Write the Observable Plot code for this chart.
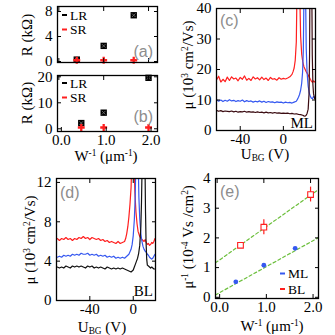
<!DOCTYPE html>
<html><head><meta charset="utf-8">
<script src="https://cdn.jsdelivr.net/npm/d3@7"></script>
<script src="https://cdn.jsdelivr.net/npm/@observablehq/plot@0.6"></script>
<style>
html,body{margin:0;padding:0;background:#fff;}
#chart{position:relative;width:335px;height:335px;overflow:hidden;background:#fff;}
#chart svg{position:absolute;left:0;top:0;}
</style></head><body><div id="chart"></div>
<script>
// ---------- DATA ----------
// (a) monolayer resistance vs inverse width
const aW = [0.4, 1.0, 1.67];
const aLR = [0.3, 2.5, 7.4];
const aSR = [0.2, 0.2, 0.2];
// (b) bilayer resistance vs inverse width
const bW = [0.5, 1.0, 2.0];
const bLR = [2.2, 6.2, 19.6];
const bSR = [0.5, 0.5, 0.5];
// (c) ML mobility vs back-gate voltage
const cRedX = [-62,-60,-58,-56,-54,-52,-50,-48,-46,-44,-42,-40,-38,-36,-34,-32,-30,-28,-26,-24,-22,-20,-18,-16,-14,-12,-10,-8,-6,-4,-2,0,2,4,6,8,9,10,11,12,12.6,15.2,16,17,18,19,20,21,22,23,24,25,26,27,28,29,30];
const cRedY = [16.6,17.8,15.9,16.8,16.0,17.5,16.4,17.6,16.9,17.2,16.3,17.4,16.8,17.9,16.5,17.1,16.4,17.6,16.9,17.3,16.6,17.5,16.7,17.2,16.4,17.4,16.8,17.0,16.5,17.3,16.8,17.1,16.9,17.2,17.6,18.4,19.3,20.5,23,29,45,45,31,25,22.5,21,20.2,19.4,18.8,18.2,17.5,16.8,16.2,15.8,16.3,15.9,16.1];
const cBlueX = [-62,-60,-58,-56,-54,-52,-50,-48,-46,-44,-42,-40,-38,-36,-34,-32,-30,-28,-26,-24,-22,-20,-18,-16,-14,-12,-10,-8,-6,-4,-2,0,2,4,6,8,10,12,13,14,15,16,17,17.8,18.5,19.1,20.6,21.2,22,23,24,25,26,27,28,29,30];
const cBlueY = [10.1,9.6,10.0,9.5,9.9,9.6,10.1,9.7,9.9,9.5,9.8,9.6,10.0,9.4,9.8,9.5,9.7,9.3,9.6,9.4,9.7,9.3,9.6,9.2,9.5,9.3,9.4,9.1,9.4,9.2,9.3,9.0,9.3,9.1,9.2,9.0,9.3,9.6,10.2,10.9,11.8,13.2,15.5,19,26,45,45,27,19,14.5,12.3,11.2,10.6,10.4,11.2,10.7,10.9];
const cDarkX = [-62,-60,-58,-56,-54,-52,-50,-48,-46,-44,-42,-40,-38,-36,-34,-32,-30,-28,-26,-24,-22,-20,-18,-16,-14,-12,-10,-8,-6,-4,-2,0,2,4,6,8,10,12,14,16,18,19,20,21,22,23,23.8,24.3,24.6,26.4,26.8,27.4,28,29,30];
const cDarkY = [6.6,6.3,6.5,6.2,6.4,6.3,6.2,6.4,6.1,6.3,6.0,6.2,6.1,6.3,6.0,6.2,6.0,6.1,5.9,6.1,5.9,6.0,5.8,6.0,5.8,5.9,5.7,5.9,5.7,5.8,5.6,5.7,5.6,5.7,5.5,5.6,5.4,5.5,5.3,5.2,5.0,4.8,4.7,4.9,5.6,7,12,25,45,45,25,15,12,10.5,10];
// (d) BL mobility vs back-gate voltage
const dRedX = [-70,-68,-66,-64,-62,-60,-58,-56,-54,-52,-50,-48,-46,-44,-42,-40,-38,-36,-34,-32,-30,-28,-26,-24,-22,-20,-18,-16,-14,-12,-10,-8,-7,-6,-5,-4,-3,-2,-1.4,0.8,1.5,2.5,3.5,4.5,6,8,10,11,12,13,14,15,16,17,18,19,20];
const dRedY = [6.3,6.1,6.3,6.2,6.4,6.2,6.3,6.1,6.3,6.2,6.4,6.3,6.5,6.3,6.4,6.2,6.4,6.3,6.2,6.3,6.1,6.2,6.0,6.1,5.9,6.0,5.9,5.8,6.0,5.8,5.9,6.0,6.3,6.8,7.5,8.5,9.8,11.5,14,14,11,9,7.8,7.0,6.5,6.2,6.0,6.2,5.9,5.7,5.8,5.6,5.7,5.9,5.8,6.0,6.3];
const dBlueX = [-70,-68,-66,-64,-62,-60,-58,-56,-54,-52,-50,-48,-46,-44,-42,-40,-38,-36,-34,-32,-30,-28,-26,-24,-22,-20,-18,-16,-14,-12,-10,-8,-6,-4,-2,-1,0,1,1.8,2.4,4.6,5.2,6,7,8,9,10,11,12,13,14,15,16,17,18,19,20];
const dBlueY = [4.4,4.5,4.4,4.6,4.5,4.6,4.5,4.7,4.6,4.7,4.6,4.8,4.7,4.7,4.8,4.6,4.7,4.6,4.7,4.5,4.6,4.5,4.6,4.4,4.5,4.4,4.5,4.3,4.4,4.3,4.4,4.3,4.5,4.7,5.2,5.7,6.6,8.2,10.5,14,14,10.5,8.3,6.8,6.0,5.5,5.2,5.0,4.9,4.7,4.6,4.4,4.3,4.2,4.3,4.5,4.7];
const dBlackX = [-70,-68,-66,-64,-62,-60,-58,-56,-54,-52,-50,-48,-46,-44,-42,-40,-38,-36,-34,-32,-30,-28,-26,-24,-22,-20,-18,-16,-14,-12,-10,-8,-6,-4,-2,0,1,2,3,4,5,6,7,7.6,8.2,10.8,11.3,11.8,12.4,13,14,15,16,17,18,19,20];
const dBlackY = [3.4,3.3,3.4,3.3,3.5,3.4,3.3,3.5,3.4,3.5,3.4,3.5,3.4,3.3,3.5,3.4,3.5,3.3,3.4,3.3,3.4,3.3,3.2,3.4,3.3,3.2,3.3,3.2,3.3,3.2,3.3,3.2,3.1,3.0,2.9,3.1,3.4,3.7,4.0,4.3,4.8,5.6,7.5,10,14,14,9,6,4.2,3.6,3.5,3.4,3.3,3.4,3.3,3.2,3.2];
// (e) inverse mobility vs inverse width
const eMLx = [0.4, 1.0, 1.67];
const eMLy = [0.52, 1.08, 1.65];
const eBLx = [0.5, 1.0, 2.0];
const eBLy = [1.75, 2.36, 3.46];
const eBLerr = [0.05, 0.25, 0.25];
const fitML = [0.11, 0.875];   // intercept, slope
const fitBL = [1.2, 1.12];
// tick values
const wTicks = [0, 1, 2];
const aYTicks = [0, 4, 8];
const bYTicks = [0, 10, 20];
const cXTicks = [-40, 0];
const cYTicks = [0, 10, 20, 30, 40];
const dXTicks = [-40, 0];
const dYTicks = [0, 4, 8, 12];
const eYTicks = [0, 1, 2, 3, 4];

// ---------- STYLE ----------
const W = 335, H = 335;
const SERIF = "'Liberation Serif','Times New Roman',serif";
const SANS = "'Liberation Sans','DejaVu Sans',sans-serif";
const RED = "#ff1f1f", BLUE = "#3558f0", DARK = "#3b0c12", GREEN = "#6cbf3c", GRAY = "#8d8d8d";

const pts = (xs, ys) => xs.map((x, i) => ({x, y: ys[i]}));
const chart = document.getElementById("chart");

function panel({frame: [x0, x1, y0, y1], xDomain, yDomain, xTicks, yTicks, xLabels = true, xFormat = d => String(d), xdx = 0, marks}) {
  const svg = Plot.plot({
    width: W, height: H,
    marginLeft: x0, marginRight: W - x1, marginTop: y0, marginBottom: H - y1,
    x: {domain: xDomain}, y: {domain: yDomain},
    style: {background: "transparent", overflow: "visible", fontFamily: SERIF, fontSize: "15px", color: "black"},
    marks: [
      ...marks,
      Plot.axisX(xTicks, {anchor: "bottom", tickSize: -4, tickPadding: 7, dx: xdx, tickFormat: xLabels ? xFormat : () => "", label: null}),
      Plot.axisX(xTicks, {anchor: "top", tickSize: -4, tickFormat: () => "", label: null}),
      Plot.axisY(yTicks, {anchor: "left", tickSize: -4, tickPadding: 9, tickFormat: d => String(d), label: null}),
      Plot.axisY(yTicks, {anchor: "right", tickSize: -4, tickFormat: () => "", label: null}),
      Plot.frame({stroke: "black", strokeWidth: 1.3})
    ]
  });
  chart.appendChild(svg);
  return d3.select(svg);
}

// rich text helper: parts = [[text, "sup"|"sub"|null], ...]
function rich(sel, x, y, parts, {anchor = "middle", rotate = false, size = 15, font = SERIF, fill = "black"} = {}) {
  const t = sel.append("text")
    .attr("font-family", font).attr("font-size", size).attr("fill", fill)
    .attr("text-anchor", anchor);
  if (rotate) t.attr("transform", `translate(${x},${y}) rotate(-90)`);
  else t.attr("x", x).attr("y", y);
  for (const [s, kind] of parts) {
    const ts = t.append("tspan").text(s);
    if (kind === "sup") ts.attr("font-size", size * 0.62).attr("baseline-shift", "55%");
    if (kind === "sub") ts.attr("font-size", size * 0.62).attr("baseline-shift", "-25%");
  }
  return t;
}
function legendItem(sel, x, y, color, label, size = 13.5) {
  sel.append("line").attr("x1", x).attr("x2", x + 5).attr("y1", y - 4.5).attr("y2", y - 4.5)
    .attr("stroke", color).attr("stroke-width", 2);
  sel.append("text").attr("x", x + 8).attr("y", y).attr("text-anchor", "start")
    .attr("font-family", SERIF).attr("font-size", size).text(label);
}
function tag(sel, x, y, s, anchor = "start") {
  sel.append("text").attr("x", x).attr("y", y).attr("font-family", SANS).attr("font-size", 16)
    .attr("fill", GRAY).attr("text-anchor", anchor).text(s);
}
const wLabel = [["W", null], ["-1", "sup"], [" (μm", null], ["-1", "sup"], [")", null]];
const uLabel = [["U", null], ["BG", "sub"], [" (V)", null]];
const muLabel = [["μ (10", null], ["3", "sup"], [" cm", null], ["2", "sup"], ["/Vs)", null]];
const invMuLabel = [["μ", null], ["-1", "sup"], [" (10", null], ["-4", "sup"], [" Vs /cm", null], ["2", "sup"], [")", null]];
const rLabel = [["R (kΩ)", null]];
const fmt1 = d3.format(".1f");

function rMarks(xs, lr, sr) {
  return [
    Plot.dot(pts(xs, lr), {x: "x", y: "y", symbol: "square", r: 3.6, fill: "black", stroke: "none"}),
    Plot.dot(pts(xs, lr), {x: "x", y: "y", symbol: "times", r: 1.8, stroke: "#777", strokeWidth: 0.8}),
    Plot.dot(pts(xs, sr), {x: "x", y: "y", symbol: "cross", r: 2.9, fill: RED, stroke: "none"})
  ];
}

// (a)
const A = panel({frame: [57, 157, 6, 62], xDomain: [-0.03, 2.2], yDomain: [-0.16, 8.8],
  xTicks: wTicks, yTicks: aYTicks, xLabels: false, marks: rMarks(aW, aLR, aSR)});
legendItem(A, 62, 19.5, "black", "LR");
legendItem(A, 62, 34, RED, "SR");
tag(A, 153, 57, "(a)", "end");
rich(A, 32, 35, rLabel, {rotate: true});

// (b)
const B = panel({frame: [57, 157, 75, 131], xDomain: [-0.03, 2.2], yDomain: [-1.04, 20.5],
  xTicks: wTicks, yTicks: bYTicks, xFormat: fmt1, xdx: 2.5, marks: rMarks(bW, bLR, bSR)});
legendItem(B, 62, 87.5, "black", "LR");
legendItem(B, 62, 102, RED, "SR");
tag(B, 153, 122, "(b)", "end");
rich(B, 32, 103, rLabel, {rotate: true});
rich(B, 106, 161, wLabel);

// (c)
const C = panel({frame: [216, 315, 8, 130], xDomain: [-62, 29.8], yDomain: [0, 40],
  xTicks: cXTicks, yTicks: cYTicks, marks: [
    Plot.line(pts(cRedX, cRedY), {x: "x", y: "y", stroke: RED, strokeWidth: 1.2, clip: true}),
    Plot.line(pts(cBlueX, cBlueY), {x: "x", y: "y", stroke: BLUE, strokeWidth: 1.2, clip: true}),
    Plot.line(pts(cDarkX, cDarkY), {x: "x", y: "y", stroke: DARK, strokeWidth: 1.2, clip: true})
  ]});
tag(C, 220, 26, "(c)");
C.append("text").attr("x", 313).attr("y", 128).attr("text-anchor", "end").attr("font-family", SERIF).attr("font-size", 15).text("ML");
rich(C, 193, 65, muLabel, {rotate: true});
rich(C, 265, 159, uLabel);

// (d)
const D = panel({frame: [56, 155, 178, 300], xDomain: [-70.7, 20.5], yDomain: [0, 12.4],
  xTicks: dXTicks, yTicks: dYTicks, marks: [
    Plot.line(pts(dRedX, dRedY), {x: "x", y: "y", stroke: RED, strokeWidth: 1.2, clip: true}),
    Plot.line(pts(dBlueX, dBlueY), {x: "x", y: "y", stroke: BLUE, strokeWidth: 1.2, clip: true}),
    Plot.line(pts(dBlackX, dBlackY), {x: "x", y: "y", stroke: "#111", strokeWidth: 1.2, clip: true})
  ]});
tag(D, 60, 198, "(d)");
D.append("text").attr("x", 153).attr("y", 296).attr("text-anchor", "end").attr("font-family", SERIF).attr("font-size", 15).text("BL");
rich(D, 35, 240, muLabel, {rotate: true});
rich(D, 102, 331.5, uLabel);

// (e)
const eX = [-0.035, 2.17];
const fitLine = f => eX.map(x => ({x, y: f[0] + f[1] * x}));
const blPts = eBLx.map((x, i) => ({x, y: eBLy[i], lo: eBLy[i] - eBLerr[i], hi: eBLy[i] + eBLerr[i]}));
const E = panel({frame: [215, 318, 178, 298], xDomain: eX, yDomain: [-0.04, 4.0],
  xTicks: wTicks, yTicks: eYTicks, xFormat: fmt1, xdx: 2.5, marks: [
    Plot.line(fitLine(fitML), {x: "x", y: "y", stroke: GREEN, strokeWidth: 1.2, strokeDasharray: "3,2.5", clip: true}),
    Plot.line(fitLine(fitBL), {x: "x", y: "y", stroke: GREEN, strokeWidth: 1.2, strokeDasharray: "3,2.5", clip: true}),
    Plot.ruleX(blPts, {x: "x", y1: "lo", y2: "hi", stroke: RED, strokeWidth: 1.2}),
    Plot.dot(blPts, {x: "x", y: "y", symbol: "square", r: 3.2, stroke: RED, strokeWidth: 1.1, fill: "white"}),
    Plot.dot(pts(eMLx, eMLy), {x: "x", y: "y", r: 2.4, fill: BLUE, stroke: "none"})
  ]});
legendItem(E, 280, 278, BLUE, "ML");
legendItem(E, 280, 293.5, RED, "BL");
tag(E, 220, 197, "(e)");
rich(E, 193, 237, invMuLabel, {rotate: true});
rich(E, 272, 330.5, wLabel);
</script></body></html>
